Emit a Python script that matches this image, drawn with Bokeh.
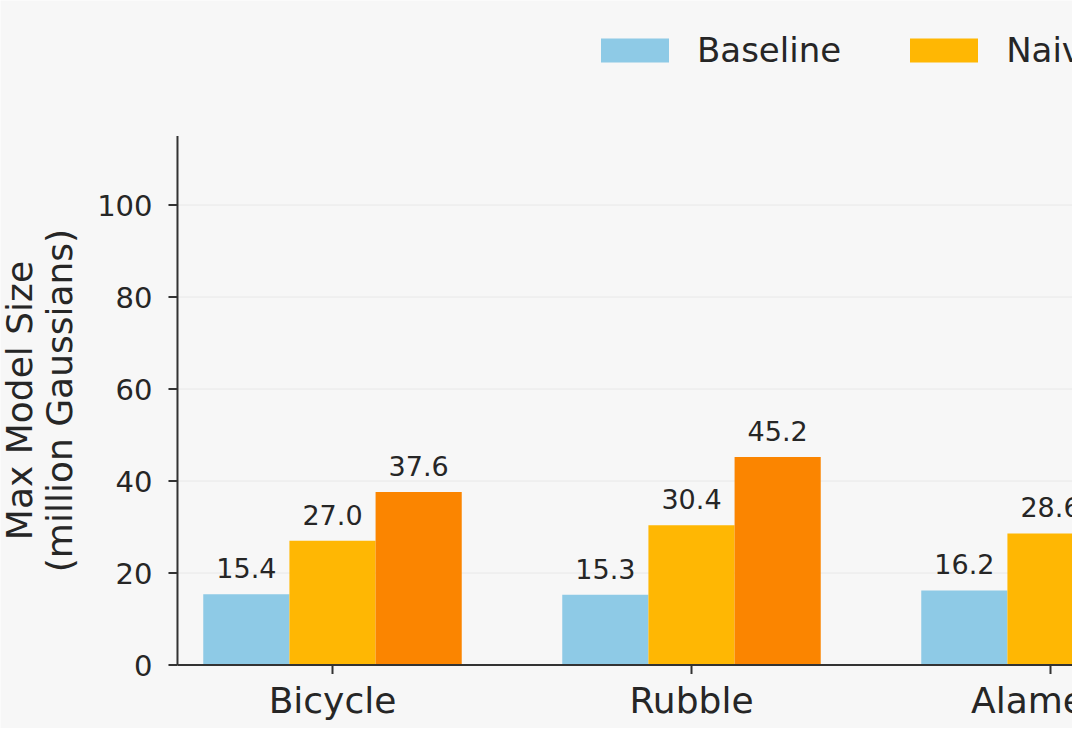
import math
from bokeh.plotting import figure
from bokeh.models import ColumnDataSource, Range1d, Legend, LegendItem
from bokeh.core.properties import value
from bokeh.embed import file_html
from bokeh.resources import INLINE

categories = ["Bicycle", "Rubble", "Alameda"]
baseline = [15.4, 15.3, 16.2]
naive = [27.0, 30.4, 28.6]
third_series = [37.6, 45.2]          # Alameda value lies outside the visible crop
series_names = ["Baseline", "Naive"]
y_ticks = [0, 20, 40, 60, 80, 100]
y_tick_labels = ["0", "20", "40", "60", "80", "100"]
y_axis_top = 115
y_label_lines = ["Max Model Size", "(million Gaussians)"]

colors = ["#8ECAE6", "#FFB703", "#FB8500"]
FONT = value("DejaVu Sans")
TXT = "#262626"
AX = "#333333"
BG = "#f7f7f7"
GRID = "#e8e8e8"
bar_w = 0.24
x_left = -0.4318          # where the left spine sits (data units)
x_far = 3.0               # spines / grid run past the right edge

p = figure(width=1072, height=728, output_backend="svg", toolbar_location=None,
           x_range=Range1d(-0.92479, 2.06128), y_range=Range1d(-13.80, 144.46),
           x_axis_location=None, y_axis_location=None, min_border=0)
p.background_fill_color = BG
p.border_fill_color = BG
p.outline_line_color = None
p.grid.visible = False

# horizontal grid lines
grid_y = y_ticks[1:]
p.segment(x0=[x_left] * len(grid_y), x1=[x_far] * len(grid_y), y0=grid_y, y1=grid_y,
          line_color=GRID, line_width=1)

renderers = []
all_series = [baseline, naive, third_series]
offsets = [-bar_w, 0.0, bar_w]
for k, vals in enumerate(all_series):
    xs = [i + offsets[k] for i in range(len(vals))]
    src = ColumnDataSource(dict(x=xs, top=vals, label=[f"{v:.1f}" for v in vals]))
    r = p.vbar(x="x", top="top", bottom=0, width=bar_w, source=src, fill_color=colors[k], line_color=None)
    renderers.append(r)
    p.text(x="x", y="top", text="label", source=src, text_align="center", text_baseline="alphabetic",
           y_offset=-26, text_font=FONT, text_font_size="27px", text_color=TXT)

# spines
p.segment(x0=[x_left], y0=[0], x1=[x_left], y1=[y_axis_top], line_color=AX, line_width=2)
p.segment(x0=[x_left], y0=[0], x1=[x_far], y1=[0], line_color=AX, line_width=2)

# y ticks and labels
p.ray(x=[x_left] * len(y_ticks), y=y_ticks, length=9, length_units="screen", angle=math.pi,
      line_color=AX, line_width=2)
p.text(x=[x_left] * len(y_ticks), y=y_ticks, text=y_tick_labels, text_align="right",
       text_baseline="middle", x_offset=-25, text_font=FONT, text_font_size="29px", text_color=TXT)

# x ticks and category labels
cat_x = list(range(len(categories)))
p.ray(x=cat_x, y=[0] * len(cat_x), length=9, length_units="screen", angle=-math.pi / 2,
      line_color=AX, line_width=2)
p.text(x=cat_x, y=[0] * len(cat_x), text=categories, text_align="center",
       text_baseline="alphabetic", y_offset=35, text_font=FONT, text_font_size="36px", text_color=TXT)

# y axis title (two lines, rotated)
y_mid = y_axis_top / 2
p.text(x=[x_left], y=[y_mid], text=[y_label_lines[0]], angle=math.pi / 2, text_align="center",
       text_baseline="alphabetic", x_offset=-158, text_font=FONT, text_font_size="36px", text_color=TXT)
p.text(x=[x_left], y=[y_mid], text=[y_label_lines[1]], angle=math.pi / 2, text_align="center",
       text_baseline="alphabetic", x_offset=-118, text_font=FONT, text_font_size="36px", text_color=TXT)

legend = Legend(items=[LegendItem(label=series_names[i], renderers=[renderers[i]]) for i in range(2)],
                location=(592, 658), orientation="horizontal",
                glyph_width=85, glyph_height=30, label_standoff=20, spacing=60,
                padding=0, margin=0, border_line_color=None, background_fill_alpha=0,
                label_text_font="DejaVu Sans", label_text_font_size="34px", label_text_color=TXT)
p.add_layout(legend, "center")

open("out.html", "w").write(file_html(p, INLINE))
